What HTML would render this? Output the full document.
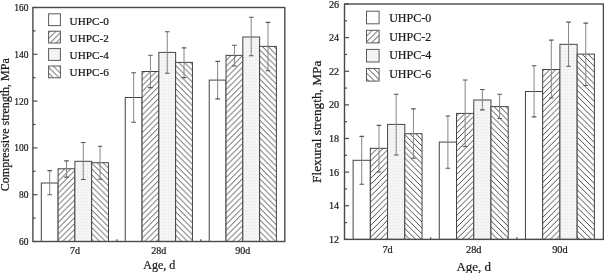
<!DOCTYPE html>
<html><head><meta charset="utf-8"><style>
html,body{margin:0;padding:0;background:#fff;}
svg{display:block;}
text{font-family:"Liberation Serif","Times New Roman",serif;fill:#1a1a1a;stroke:#1a1a1a;stroke-width:0.22px;}
</style></head><body>
<svg width="604" height="273" viewBox="0 0 604 273">
<defs>
<pattern id="h2L" patternUnits="userSpaceOnUse" width="5.86" height="5.86" patternTransform="translate(0,-0.7)">
 <rect width="5.86" height="5.86" fill="#fff"/>
 <path d="M0,5.86 L5.86,0 M-1,1 L1,-1 M4.86,6.86 L6.86,4.86" stroke="#2a2a2a" stroke-width="0.85"/>
</pattern>
<pattern id="h6L" patternUnits="userSpaceOnUse" width="5.86" height="5.86" patternTransform="translate(0,1.1)">
 <rect width="5.86" height="5.86" fill="#fff"/>
 <path d="M0,0 L5.86,5.86 M-1,4.86 L1,6.86 M4.86,-1 L6.86,1" stroke="#2a2a2a" stroke-width="0.85"/>
</pattern>
<pattern id="g4L" patternUnits="userSpaceOnUse" width="3" height="3">
 <rect width="3" height="3" fill="#f7f7f7"/>
 <path d="M0,0.5h3M0.5,0v3" stroke="#ebebeb" stroke-width="0.5"/>
</pattern>
<pattern id="h2R" patternUnits="userSpaceOnUse" width="5.86" height="5.86" patternTransform="translate(0,-1.7)">
 <rect width="5.86" height="5.86" fill="#fff"/>
 <path d="M0,5.86 L5.86,0 M-1,1 L1,-1 M4.86,6.86 L6.86,4.86" stroke="#2a2a2a" stroke-width="0.85"/>
</pattern>
<pattern id="h6R" patternUnits="userSpaceOnUse" width="5.86" height="5.86" patternTransform="translate(0,-0.6)">
 <rect width="5.86" height="5.86" fill="#fff"/>
 <path d="M0,0 L5.86,5.86 M-1,4.86 L1,6.86 M4.86,-1 L6.86,1" stroke="#2a2a2a" stroke-width="0.85"/>
</pattern>
<pattern id="g4R" patternUnits="userSpaceOnUse" width="3" height="3">
 <rect width="3" height="3" fill="#f7f7f7"/>
 <path d="M0,0.5h3M0.5,0v3" stroke="#ebebeb" stroke-width="0.5"/>
</pattern>
</defs>
<rect width="604" height="273" fill="#fff"/>
<rect x="41.30" y="183.00" width="16.79" height="58.50" fill="#ffffff" stroke="#454545" stroke-width="1.0"/>
<rect x="58.09" y="168.80" width="16.79" height="72.70" fill="url(#h2L)" stroke="#454545" stroke-width="1.0"/>
<rect x="74.88" y="161.30" width="16.79" height="80.20" fill="url(#g4L)" stroke="#454545" stroke-width="1.0"/>
<rect x="91.68" y="162.70" width="16.79" height="78.80" fill="url(#h6L)" stroke="#454545" stroke-width="1.0"/>
<path d="M49.69,170.60V194.80" stroke="#858585" stroke-width="1.0" fill="none"/>
<path d="M47.39,170.60h4.6M47.39,194.80h4.6" stroke="#555555" stroke-width="1.1" fill="none"/>
<path d="M66.49,160.90V177.10" stroke="#858585" stroke-width="1.0" fill="none"/>
<path d="M64.19,160.90h4.6M64.19,177.10h4.6" stroke="#555555" stroke-width="1.1" fill="none"/>
<path d="M83.28,142.50V179.50" stroke="#858585" stroke-width="1.0" fill="none"/>
<path d="M80.98,142.50h4.6M80.98,179.50h4.6" stroke="#555555" stroke-width="1.1" fill="none"/>
<path d="M100.07,146.30V179.20" stroke="#858585" stroke-width="1.0" fill="none"/>
<path d="M97.77,146.30h4.6M97.77,179.20h4.6" stroke="#555555" stroke-width="1.1" fill="none"/>
<rect x="125.26" y="97.50" width="16.79" height="144.00" fill="#ffffff" stroke="#454545" stroke-width="1.0"/>
<rect x="142.06" y="71.50" width="16.79" height="170.00" fill="url(#h2L)" stroke="#454545" stroke-width="1.0"/>
<rect x="158.85" y="52.40" width="16.79" height="189.10" fill="url(#g4L)" stroke="#454545" stroke-width="1.0"/>
<rect x="175.64" y="62.40" width="16.79" height="179.10" fill="url(#h6L)" stroke="#454545" stroke-width="1.0"/>
<path d="M133.66,72.70V122.30" stroke="#858585" stroke-width="1.0" fill="none"/>
<path d="M131.36,72.70h4.6M131.36,122.30h4.6" stroke="#555555" stroke-width="1.1" fill="none"/>
<path d="M150.45,55.20V87.60" stroke="#858585" stroke-width="1.0" fill="none"/>
<path d="M148.15,55.20h4.6M148.15,87.60h4.6" stroke="#555555" stroke-width="1.1" fill="none"/>
<path d="M167.25,31.70V73.30" stroke="#858585" stroke-width="1.0" fill="none"/>
<path d="M164.95,31.70h4.6M164.95,73.30h4.6" stroke="#555555" stroke-width="1.1" fill="none"/>
<path d="M184.04,47.90V77.60" stroke="#858585" stroke-width="1.0" fill="none"/>
<path d="M181.74,47.90h4.6M181.74,77.60h4.6" stroke="#555555" stroke-width="1.1" fill="none"/>
<rect x="209.23" y="80.10" width="16.79" height="161.40" fill="#ffffff" stroke="#454545" stroke-width="1.0"/>
<rect x="226.02" y="55.40" width="16.79" height="186.10" fill="url(#h2L)" stroke="#454545" stroke-width="1.0"/>
<rect x="242.82" y="37.00" width="16.79" height="204.50" fill="url(#g4L)" stroke="#454545" stroke-width="1.0"/>
<rect x="259.61" y="46.40" width="16.79" height="195.10" fill="url(#h6L)" stroke="#454545" stroke-width="1.0"/>
<path d="M217.63,61.40V98.90" stroke="#858585" stroke-width="1.0" fill="none"/>
<path d="M215.33,61.40h4.6M215.33,98.90h4.6" stroke="#555555" stroke-width="1.1" fill="none"/>
<path d="M234.42,45.30V66.00" stroke="#858585" stroke-width="1.0" fill="none"/>
<path d="M232.12,45.30h4.6M232.12,66.00h4.6" stroke="#555555" stroke-width="1.1" fill="none"/>
<path d="M251.21,17.20V55.80" stroke="#858585" stroke-width="1.0" fill="none"/>
<path d="M248.91,17.20h4.6M248.91,55.80h4.6" stroke="#555555" stroke-width="1.1" fill="none"/>
<path d="M268.01,22.40V70.80" stroke="#858585" stroke-width="1.0" fill="none"/>
<path d="M265.71,22.40h4.6M265.71,70.80h4.6" stroke="#555555" stroke-width="1.1" fill="none"/>
<rect x="32.9" y="7.5" width="251.90" height="234.00" fill="none" stroke="#4a4a4a" stroke-width="1.4"/>
<path d="M32.9,241.50h4.5" stroke="#4a4a4a" stroke-width="1.2"/>
<path d="M32.9,194.70h4.5" stroke="#4a4a4a" stroke-width="1.2"/>
<path d="M32.9,147.90h4.5" stroke="#4a4a4a" stroke-width="1.2"/>
<path d="M32.9,101.10h4.5" stroke="#4a4a4a" stroke-width="1.2"/>
<path d="M32.9,54.30h4.5" stroke="#4a4a4a" stroke-width="1.2"/>
<path d="M32.9,7.50h4.5" stroke="#4a4a4a" stroke-width="1.2"/>
<path d="M32.9,218.10h2.6" stroke="#4a4a4a" stroke-width="1.2"/>
<path d="M32.9,171.30h2.6" stroke="#4a4a4a" stroke-width="1.2"/>
<path d="M32.9,124.50h2.6" stroke="#4a4a4a" stroke-width="1.2"/>
<path d="M32.9,77.70h2.6" stroke="#4a4a4a" stroke-width="1.2"/>
<path d="M32.9,30.90h2.6" stroke="#4a4a4a" stroke-width="1.2"/>
<path d="M116.87,241.5v-2.2" stroke="#4a4a4a" stroke-width="1.2"/>
<path d="M200.83,241.5v-2.2" stroke="#4a4a4a" stroke-width="1.2"/>
<text transform="translate(28.4,244.97) scale(0.93,1)" font-size="10.2" text-anchor="end">60</text>
<text transform="translate(28.4,198.17) scale(0.93,1)" font-size="10.2" text-anchor="end">80</text>
<text transform="translate(28.4,151.37) scale(0.93,1)" font-size="10.2" text-anchor="end">100</text>
<text transform="translate(28.4,104.57) scale(0.93,1)" font-size="10.2" text-anchor="end">120</text>
<text transform="translate(28.4,57.77) scale(0.93,1)" font-size="10.2" text-anchor="end">140</text>
<text transform="translate(28.4,10.97) scale(0.93,1)" font-size="10.2" text-anchor="end">160</text>
<text x="74.88" y="253.9" font-size="10" text-anchor="middle">7d</text>
<text x="158.85" y="253.9" font-size="10" text-anchor="middle">28d</text>
<text x="242.82" y="253.9" font-size="10" text-anchor="middle">90d</text>
<text x="159.35" y="269.3" font-size="12" text-anchor="middle">Age, d</text>
<text transform="translate(9.1,124.7) rotate(-90)" font-size="12.0" text-anchor="middle">Compressive strength, MPa</text>
<rect x="48.6" y="13.80" width="11.8" height="11.8" fill="#ffffff" stroke="#5a5a5a" stroke-width="1.0"/>
<text x="69.6" y="24.60" font-size="11.2">UHPC-0</text>
<rect x="48.6" y="31.20" width="11.8" height="11.8" fill="url(#h2L)" stroke="#5a5a5a" stroke-width="1.0"/>
<text x="69.6" y="41.70" font-size="11.2">UHPC-2</text>
<rect x="48.6" y="48.60" width="11.8" height="11.8" fill="url(#g4L)" stroke="#5a5a5a" stroke-width="1.0"/>
<text x="69.6" y="58.80" font-size="11.2">UHPC-4</text>
<rect x="48.6" y="66.00" width="11.8" height="11.8" fill="url(#h6L)" stroke="#5a5a5a" stroke-width="1.0"/>
<text x="69.6" y="75.90" font-size="11.2">UHPC-6</text>
<rect x="353.12" y="160.30" width="17.23" height="79.10" fill="#ffffff" stroke="#454545" stroke-width="1.0"/>
<rect x="370.35" y="148.30" width="17.23" height="91.10" fill="url(#h2R)" stroke="#454545" stroke-width="1.0"/>
<rect x="387.58" y="124.40" width="17.23" height="115.00" fill="url(#g4R)" stroke="#454545" stroke-width="1.0"/>
<rect x="404.82" y="133.70" width="17.23" height="105.70" fill="url(#h6R)" stroke="#454545" stroke-width="1.0"/>
<path d="M361.73,136.40V184.30" stroke="#858585" stroke-width="1.0" fill="none"/>
<path d="M359.43,136.40h4.6M359.43,184.30h4.6" stroke="#555555" stroke-width="1.1" fill="none"/>
<path d="M378.97,125.40V172.00" stroke="#858585" stroke-width="1.0" fill="none"/>
<path d="M376.67,125.40h4.6M376.67,172.00h4.6" stroke="#555555" stroke-width="1.1" fill="none"/>
<path d="M396.20,94.20V155.00" stroke="#858585" stroke-width="1.0" fill="none"/>
<path d="M393.90,94.20h4.6M393.90,155.00h4.6" stroke="#555555" stroke-width="1.1" fill="none"/>
<path d="M413.43,108.90V158.30" stroke="#858585" stroke-width="1.0" fill="none"/>
<path d="M411.13,108.90h4.6M411.13,158.30h4.6" stroke="#555555" stroke-width="1.1" fill="none"/>
<rect x="439.28" y="142.10" width="17.23" height="97.30" fill="#ffffff" stroke="#454545" stroke-width="1.0"/>
<rect x="456.52" y="113.40" width="17.23" height="126.00" fill="url(#h2R)" stroke="#454545" stroke-width="1.0"/>
<rect x="473.75" y="100.00" width="17.23" height="139.40" fill="url(#g4R)" stroke="#454545" stroke-width="1.0"/>
<rect x="490.98" y="106.60" width="17.23" height="132.80" fill="url(#h6R)" stroke="#454545" stroke-width="1.0"/>
<path d="M447.90,116.00V168.30" stroke="#858585" stroke-width="1.0" fill="none"/>
<path d="M445.60,116.00h4.6M445.60,168.30h4.6" stroke="#555555" stroke-width="1.1" fill="none"/>
<path d="M465.13,80.00V146.50" stroke="#858585" stroke-width="1.0" fill="none"/>
<path d="M462.83,80.00h4.6M462.83,146.50h4.6" stroke="#555555" stroke-width="1.1" fill="none"/>
<path d="M482.37,89.50V109.90" stroke="#858585" stroke-width="1.0" fill="none"/>
<path d="M480.07,89.50h4.6M480.07,109.90h4.6" stroke="#555555" stroke-width="1.1" fill="none"/>
<path d="M499.60,94.30V118.50" stroke="#858585" stroke-width="1.0" fill="none"/>
<path d="M497.30,94.30h4.6M497.30,118.50h4.6" stroke="#555555" stroke-width="1.1" fill="none"/>
<rect x="525.45" y="91.50" width="17.23" height="147.90" fill="#ffffff" stroke="#454545" stroke-width="1.0"/>
<rect x="542.68" y="69.50" width="17.23" height="169.90" fill="url(#h2R)" stroke="#454545" stroke-width="1.0"/>
<rect x="559.92" y="44.30" width="17.23" height="195.10" fill="url(#g4R)" stroke="#454545" stroke-width="1.0"/>
<rect x="577.15" y="54.10" width="17.23" height="185.30" fill="url(#h6R)" stroke="#454545" stroke-width="1.0"/>
<path d="M534.07,65.70V116.90" stroke="#858585" stroke-width="1.0" fill="none"/>
<path d="M531.77,65.70h4.6M531.77,116.90h4.6" stroke="#555555" stroke-width="1.1" fill="none"/>
<path d="M551.30,40.10V98.00" stroke="#858585" stroke-width="1.0" fill="none"/>
<path d="M549.00,40.10h4.6M549.00,98.00h4.6" stroke="#555555" stroke-width="1.1" fill="none"/>
<path d="M568.53,22.10V66.20" stroke="#858585" stroke-width="1.0" fill="none"/>
<path d="M566.23,22.10h4.6M566.23,66.20h4.6" stroke="#555555" stroke-width="1.1" fill="none"/>
<path d="M585.77,23.10V85.50" stroke="#858585" stroke-width="1.0" fill="none"/>
<path d="M583.47,23.10h4.6M583.47,85.50h4.6" stroke="#555555" stroke-width="1.1" fill="none"/>
<rect x="344.5" y="4.0" width="258.90" height="235.40" fill="none" stroke="#4a4a4a" stroke-width="1.4"/>
<path d="M344.5,239.40h4.5" stroke="#4a4a4a" stroke-width="1.2"/>
<path d="M344.5,205.77h4.5" stroke="#4a4a4a" stroke-width="1.2"/>
<path d="M344.5,172.14h4.5" stroke="#4a4a4a" stroke-width="1.2"/>
<path d="M344.5,138.51h4.5" stroke="#4a4a4a" stroke-width="1.2"/>
<path d="M344.5,104.89h4.5" stroke="#4a4a4a" stroke-width="1.2"/>
<path d="M344.5,71.26h4.5" stroke="#4a4a4a" stroke-width="1.2"/>
<path d="M344.5,37.63h4.5" stroke="#4a4a4a" stroke-width="1.2"/>
<path d="M344.5,4.00h4.5" stroke="#4a4a4a" stroke-width="1.2"/>
<path d="M344.5,222.59h2.6" stroke="#4a4a4a" stroke-width="1.2"/>
<path d="M344.5,188.96h2.6" stroke="#4a4a4a" stroke-width="1.2"/>
<path d="M344.5,155.33h2.6" stroke="#4a4a4a" stroke-width="1.2"/>
<path d="M344.5,121.70h2.6" stroke="#4a4a4a" stroke-width="1.2"/>
<path d="M344.5,88.07h2.6" stroke="#4a4a4a" stroke-width="1.2"/>
<path d="M344.5,54.44h2.6" stroke="#4a4a4a" stroke-width="1.2"/>
<path d="M344.5,20.81h2.6" stroke="#4a4a4a" stroke-width="1.2"/>
<path d="M430.67,239.4v-2.2" stroke="#4a4a4a" stroke-width="1.2"/>
<path d="M516.83,239.4v-2.2" stroke="#4a4a4a" stroke-width="1.2"/>
<text transform="translate(339.2,242.97) scale(0.97,1)" font-size="10.5" text-anchor="end">12</text>
<text transform="translate(339.2,209.34) scale(0.97,1)" font-size="10.5" text-anchor="end">14</text>
<text transform="translate(339.2,175.71) scale(0.97,1)" font-size="10.5" text-anchor="end">16</text>
<text transform="translate(339.2,142.08) scale(0.97,1)" font-size="10.5" text-anchor="end">18</text>
<text transform="translate(339.2,108.46) scale(0.97,1)" font-size="10.5" text-anchor="end">20</text>
<text transform="translate(339.2,74.83) scale(0.97,1)" font-size="10.5" text-anchor="end">22</text>
<text transform="translate(339.2,41.20) scale(0.97,1)" font-size="10.5" text-anchor="end">24</text>
<text transform="translate(339.2,7.57) scale(0.97,1)" font-size="10.5" text-anchor="end">26</text>
<text x="387.58" y="253.3" font-size="10.3" text-anchor="middle">7d</text>
<text x="473.75" y="253.3" font-size="10.3" text-anchor="middle">28d</text>
<text x="559.92" y="253.3" font-size="10.3" text-anchor="middle">90d</text>
<text x="473.75" y="270.5" font-size="13" text-anchor="middle">Age, d</text>
<text transform="translate(321.1,121.8) rotate(-90)" font-size="13.3" text-anchor="middle">Flexural strength, MPa</text>
<rect x="366.5" y="11.20" width="12.6" height="12.6" fill="#ffffff" stroke="#5a5a5a" stroke-width="1.0"/>
<text x="389.2" y="21.70" font-size="12">UHPC-0</text>
<rect x="366.5" y="30.30" width="12.6" height="12.6" fill="url(#h2R)" stroke="#5a5a5a" stroke-width="1.0"/>
<text x="389.2" y="40.55" font-size="12">UHPC-2</text>
<rect x="366.5" y="49.40" width="12.6" height="12.6" fill="url(#g4R)" stroke="#5a5a5a" stroke-width="1.0"/>
<text x="389.2" y="59.40" font-size="12">UHPC-4</text>
<rect x="366.5" y="68.50" width="12.6" height="12.6" fill="url(#h6R)" stroke="#5a5a5a" stroke-width="1.0"/>
<text x="389.2" y="78.25" font-size="12">UHPC-6</text>
</svg>
</body></html>
